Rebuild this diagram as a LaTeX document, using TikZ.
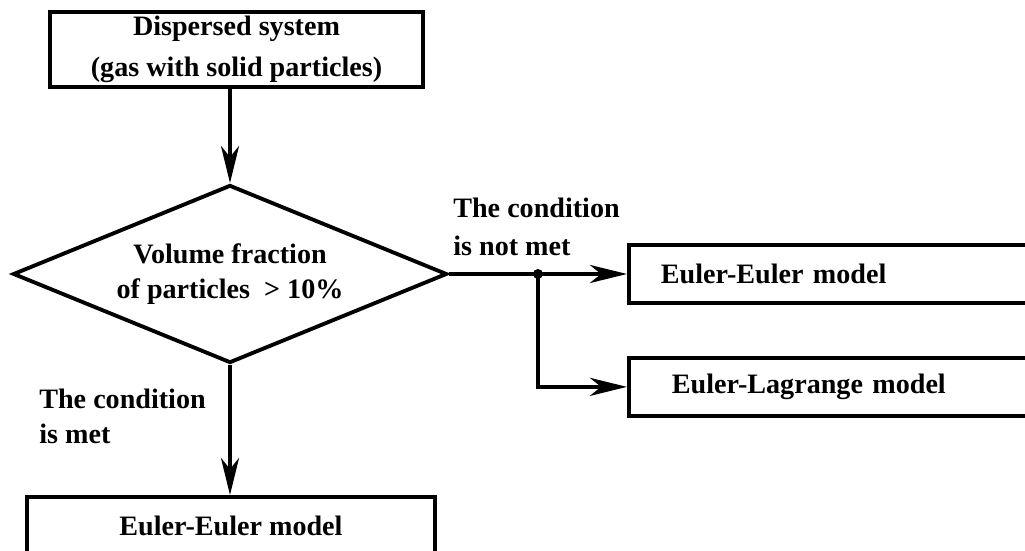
\documentclass[tikz,border=0pt]{standalone}
\usepackage{fontspec}
\setmainfont{Liberation Serif}
\usepackage{tikz}
\usetikzlibrary{arrows.meta,positioning,calc,shapes.geometric}

\begin{document}
\begin{tikzpicture}[font=\fontsize{16}{20}\selectfont\bfseries,
  blk/.style={draw,line width=2.2pt,rectangle,inner sep=0pt,align=center},
  mdl/.style={blk,anchor=west,text width=7.5cm,align=left,minimum height=1.16cm},
  arr/.style={line width=2.2pt,-{Stealth[length=0.74cm,width=0.36cm,inset=0.22cm]}}]
  \useasboundingbox (0,0) rectangle (20.5,11);
  \clip (0,0) rectangle (20.5,11);
  % blocks
  \node[blk,minimum width=7.46cm,minimum height=1.5cm] (sys) at (4.73,10.01)
        {Dispersed system\\[3pt](gas with solid particles)};
  \node[draw,line width=2.2pt,diamond,aspect=2.44,minimum width=8.68cm,minimum height=3.56cm,
        inner sep=0pt,align=center] (dia) at (4.6,5.52) {Volume fraction\\of particles\ \ > 10\%};
  \node[blk,minimum width=8.16cm,minimum height=1.16cm] (res) at (4.62,0.48) {Euler-Euler model};
  \node[mdl,inner xsep=0.64cm] (ee) at (12.54,5.52) {Euler-Euler model};
  \node[mdl,inner xsep=0.86cm,below=1.02cm of ee.south west,anchor=north west] (el) {Euler-Lagrange model};
  % connectors
  \draw[arr] (sys.south -| dia.north) -- (dia.north);
  \draw[arr] (dia.south) -- (dia.south |- res.north);
  \coordinate (jn) at ($(dia.east)!0.5!(ee.west)$);
  \draw[arr] (dia.east) -- (ee.west);
  \draw[arr] (jn) |- (el.west);
  \fill (jn) circle (0.1);
  % labels
  \node[anchor=west,align=left,inner sep=0pt] (lno) at (9.06,6.46) {The condition\\[2pt]is not met};
  \node[anchor=west,align=left,inner sep=0pt] (lyes) at (0.78,2.68) {The condition\\is met};
\end{tikzpicture}
\end{document}
